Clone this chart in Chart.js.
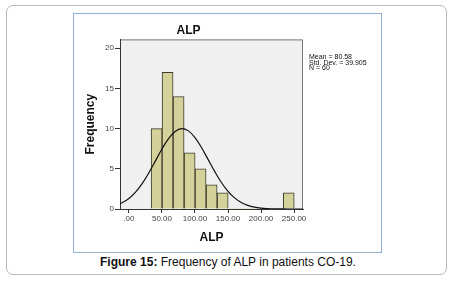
<!DOCTYPE html>
<html lang="en">

<head>
    <meta charset="UTF-8">
    <script src="https://cdn.jsdelivr.net/npm/chart.js"></script>
    <title>ALP</title>
    <style>
        body { margin: 0; background: #fff; font-family: "Liberation Sans", Arial, sans-serif; }
        .moldura {
            position: absolute; left: 6px; top: 5px; width: 441px; height: 270px;
            border: 1px solid #b8b8b8; border-radius: 7px; box-sizing: border-box;
        }
        .figura {
            position: absolute; left: 73px; top: 13px; width: 309px; height: 240px;
            border: 1px solid #8fb1d3; box-sizing: border-box; background: #fff;
        }
        .figura canvas { position: absolute; left: 0; top: 0; }
        .estat {
            position: absolute; left: 235px; top: 40px; font-size: 7px; line-height: 5.6px; color: #111;
        }
        .legenda {
            position: absolute; left: 0; width: 456px; top: 255px; text-align: center;
            font-size: 12px; color: #111;
        }
    </style>
</head>

<body>
    <div class="moldura"></div>
    <div class="figura">
        <canvas id="myChart" width="307" height="238"></canvas>
        <div class="estat">Mean = 80.58<br>Std. Dev. = 39.905<br>N = 60</div>
    </div>
    <div class="legenda"><b>Figure 15:</b> Frequency of ALP in patients CO-19.</div>
</body>

</html>
<script>
    // centro de cada classe do histograma (ALP)
    var centrosClasse = [41.9, 58.5, 75.2, 91.9, 108.5, 125.2, 141.9, 158.5, 175.2, 191.9, 208.5, 225.2, 241.9]
    var frequencias = [10, 17, 14, 7, 5, 3, 2, 0, 0, 0, 0, 0, 2]

    // curva normal
    var curvaX = [-13.5, 0, 10, 20, 30, 40, 50, 60, 70, 80, 90, 100, 110, 120, 130, 140, 150, 160, 170, 180, 190, 200, 210, 220, 230, 240, 263.5]
    var curvaY = [0.63, 1.3, 2.09, 3.16, 4.48, 5.96, 7.46, 8.75, 9.65, 10, 9.72, 8.88, 7.62, 6.14, 4.65, 3.3, 2.2, 1.38, 0.81, 0.45, 0.23, 0.11, 0.05, 0.02, 0.01, 0, 0]

    var ticksX = [0, 50, 100, 150, 200, 250]
    var rotulosX = ['.00', '50.00', '100.00', '150.00', '200.00', '250.00']
    var ticksY = [0, 5, 10, 15, 20]

    let barras = []
    for (i = 0; i < centrosClasse.length; i++) {
        barras.push({ x: centrosClasse[i], y: frequencias[i] })
    }
    let curva = []
    for (i = 0; i < curvaX.length; i++) {
        curva.push({ x: curvaX[i], y: curvaY[i] })
    }

    // fundo cinza e moldura da area do grafico
    const fundoPlot = {
        id: 'fundoPlot',
        beforeDraw(chart) {
            const { ctx, chartArea: a } = chart
            ctx.save()
            ctx.fillStyle = '#f0f0f0'
            ctx.fillRect(a.left, a.top, a.right - a.left, a.bottom - a.top)
            ctx.strokeStyle = '#777'
            ctx.lineWidth = 1
            ctx.beginPath()
            ctx.moveTo(a.left, a.top + 0.5)
            ctx.lineTo(a.right - 0.5, a.top + 0.5)
            ctx.lineTo(a.right - 0.5, a.bottom)
            ctx.stroke()
            ctx.restore()
        }
    }

    const config = {
        data: {
            datasets: [{
                type: 'line',
                data: curva,
                borderColor: '#111',
                borderWidth: 1.2,
                pointRadius: 0,
                tension: 0.4,
                fill: false,
                order: 0
            }, {
                type: 'bar',
                data: barras,
                backgroundColor: '#d5d19b',
                borderColor: '#3a3a2a',
                borderWidth: function (c) { return c.raw && c.raw.y > 0 ? 1 : 0 },
                borderSkipped: 'bottom',
                barPercentage: 1,
                categoryPercentage: 1,
                order: 1
            }]
        },
        options: {
            responsive: false,
            animation: false,
            layout: { padding: { left: 0, right: 78, top: 0, bottom: 3 } },
            plugins: {
                legend: { display: false },
                tooltip: { enabled: false },
                title: {
                    display: true,
                    text: 'ALP',
                    color: '#111',
                    font: { family: 'Liberation Sans', size: 12, weight: 'bold' },
                    padding: { top: 9, bottom: 2 }
                }
            },
            scales: {
                x: {
                    type: 'linear',
                    min: -13.5,
                    max: 263.5,
                    offset: false,
                    afterBuildTicks: function (s) { s.ticks = ticksX.map(v => ({ value: v })) },
                    afterFit: function (s) { s.height = 40 },
                    ticks: {
                        color: '#444',
                        font: { family: 'Liberation Sans', size: 8 },
                        padding: 1,
                        maxRotation: 0,
                        callback: function (v) { return rotulosX[ticksX.indexOf(v)] }
                    },
                    grid: { drawOnChartArea: false, offset: false, tickLength: 4, color: '#333' },
                    border: { color: '#333' },
                    title: {
                        display: true,
                        text: 'ALP',
                        color: '#111',
                        font: { family: 'Liberation Sans', size: 12, weight: 'bold' },
                        padding: { top: 2 }
                    }
                },
                y: {
                    min: 0,
                    max: 21.1,
                    afterBuildTicks: function (s) { s.ticks = ticksY.map(v => ({ value: v })) },
                    afterFit: function (s) { s.width = 46 },
                    ticks: {
                        color: '#444',
                        font: { family: 'Liberation Sans', size: 8 },
                        padding: 1
                    },
                    grid: { drawOnChartArea: false, tickLength: 5, color: '#333' },
                    border: { color: '#333' },
                    title: {
                        display: true,
                        text: 'Frequency',
                        color: '#111',
                        font: { family: 'Liberation Sans', size: 12, weight: 'bold' },
                        padding: { top: 9, bottom: 0 }
                    }
                }
            }
        },
        plugins: [fundoPlot]
    };

    let myChart = new Chart(document.getElementById('myChart'), config);
</script>
